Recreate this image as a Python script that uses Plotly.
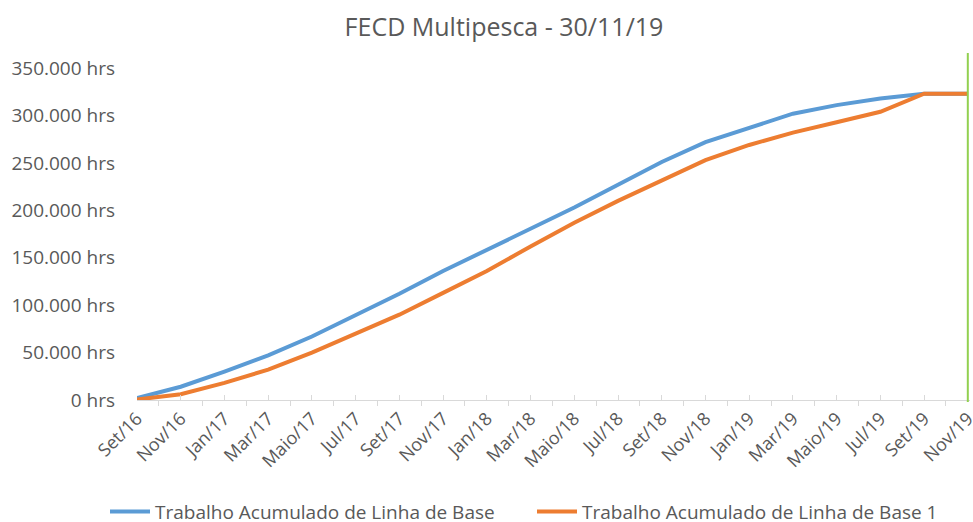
import plotly.graph_objects as go

categories = ["Set/16", "Nov/16", "Jan/17", "Mar/17", "Maio/17", "Jul/17", "Set/17", "Nov/17",
              "Jan/18", "Mar/18", "Maio/18", "Jul/18", "Set/18", "Nov/18", "Jan/19", "Mar/19",
              "Maio/19", "Jul/19", "Set/19", "Nov/19"]
baseline = [2000, 14000, 30000, 47000, 67000, 89000, 112000, 136000, 158000, 180000,
            203000, 227000, 251000, 272000, 287000, 302000, 311000, 318000, 323000, 323000]
baseline1 = [500, 6000, 18000, 32000, 50000, 70000, 90000, 113000, 136000, 162000,
             187000, 210000, 232000, 253000, 269000, 282000, 293000, 304000, 323000, 323000]
series_names = ["Trabalho Acumulado de Linha de Base", "Trabalho Acumulado de Linha de Base 1"]
y_ticks = [0, 50000, 100000, 150000, 200000, 250000, 300000, 350000]
y_tick_labels = [f"{v:,}".replace(",", ".") + " hrs" for v in y_ticks]
status_date_index = 19

xs = list(range(len(categories)))
font_family = "Open Sans, DejaVu Sans, sans-serif"
grey = "#595959"

fig = go.Figure()
fig.add_trace(go.Scatter(x=xs, y=baseline, mode="lines", name=series_names[0],
                         line=dict(color="#5B9BD5", width=4), legend="legend"))
fig.add_trace(go.Scatter(x=xs, y=baseline1, mode="lines", name=series_names[1],
                         line=dict(color="#ED7D31", width=4), legend="legend2"))

fig.add_shape(type="line", xref="x", yref="paper", x0=status_date_index, x1=status_date_index,
              y0=-0.006, y1=1.0, line=dict(color="#92D050", width=2))

legend_common = dict(orientation="h", xref="container", yref="container", xanchor="left",
                     y=0.02, yanchor="middle", font=dict(size=19, color=grey), itemwidth=40,
                     bgcolor="rgba(0,0,0,0)")

fig.update_layout(
    width=973, height=522,
    margin=dict(l=137, r=3, t=53, b=122, autoexpand=False),
    paper_bgcolor="white", plot_bgcolor="white",
    title=dict(text="FECD Multipesca - 30/11/19", x=0.518, xanchor="center", y=0.948, yanchor="middle",
               font=dict(family=font_family, size=25, color=grey)),
    font=dict(family=font_family, color=grey),
    showlegend=True,
    legend=dict(x=105 / 973, **legend_common),
    legend2=dict(x=532 / 973, **legend_common),
    xaxis=dict(range=[0, 19.05], tickmode="array", tickvals=xs, ticktext=categories,
               tickangle=-45, tickfont=dict(size=18, color=grey), ticklabeloverflow="allow",
               automargin=False,
               showgrid=False, zeroline=False, showline=True, linecolor="#d9d9d9", linewidth=1,
               ticks="inside", ticklen=5, tickcolor="#d9d9d9",
               minor=dict(tick0=0.5, dtick=1, ticks="outside", ticklen=5, tickcolor="#d9d9d9")),
    yaxis=dict(range=[0, 366000], tickmode="array", tickvals=y_ticks, ticktext=y_tick_labels,
               tickfont=dict(size=19, color=grey), ticklabelstandoff=21, automargin=False,
               showgrid=False, zeroline=False, showline=False, ticks=""),
)

# remove the browser's default 8px body margin so the figure fills the 973x522 window exactly
fig.write_html("out.html", config={"displayModeBar": False},
               post_script="document.body.style.margin='0';")
